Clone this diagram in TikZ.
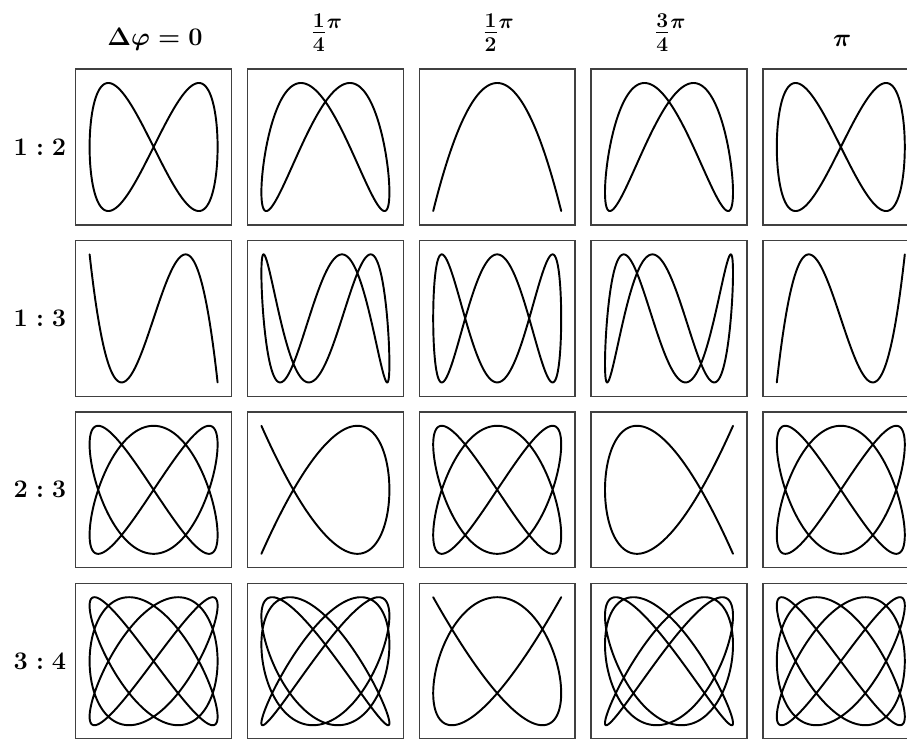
\documentclass[tikz,border=0pt]{standalone}
\usepackage{amsmath}

\newcommand{\phasefrac}[2]{{\fontsize{18.5}{20}\selectfont$\frac{#1}{#2}{}^{\pi}$}}

\tikzset{
  frame/.style={draw=black!75, line width=0.8pt, minimum size=3.12cm, inner sep=0pt},
  curve/.style={line width=1.1pt, line join=round},
  rowlabel/.style={font=\Large\boldmath},
  coltitle/.style={font=\fontsize{13.5}{16}\selectfont\boldmath, anchor=base},
}

\begin{document}
\begin{tikzpicture}[x=0.02cm, y=-0.02cm]
\useasboundingbox (0,0) rectangle (907,738);
\clip (0,0) rectangle (907,738);

% phase differences
\foreach \ttl/\ty [count=\c from 0] in {{$\Delta\varphi = 0$}/45, {\phasefrac{1}{4}}/40, {\phasefrac{1}{2}}/40, {\phasefrac{3}{4}}/40, {$\pi$}/46}
  \node[coltitle] (title-\c) at ({155+171.8*\c}, \ty) {\ttl};

% frequency ratios, one row each
\foreach \a/\b [count=\r from 0] in {1/2, 1/3, 2/3, 3/4} {
  \pgfmathsetmacro{\cy}{147+171.4*\r}
  \node[rowlabel] (ratio-\r) at (40,\cy) {$\a : \b$};
  \foreach \phase [count=\c from 0] in {0,45,90,135,180} {
    \pgfmathsetmacro{\cx}{153.6+171.8*\c}
    \node[frame] (box-\r-\c) at (\cx,\cy) {};
    \draw[curve] plot[domain=0:360, samples=721, variable=\t]
      ({\cx+64*sin(\a*\t)}, {\cy-64*sin(\b*\t+\phase)});
  }
}
\end{tikzpicture}
\end{document}
